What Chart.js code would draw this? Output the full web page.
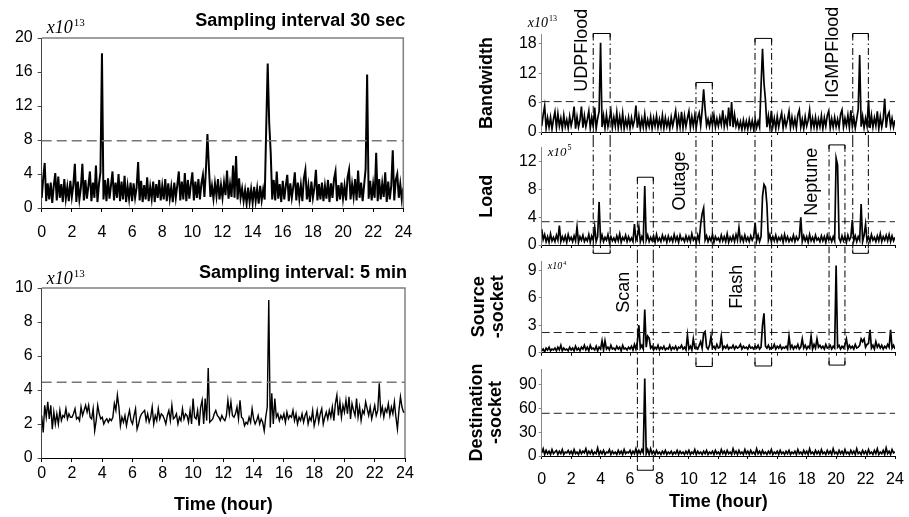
<!DOCTYPE html>
<html lang="en">
<head>
<meta charset="UTF-8" />
<title>Traffic features with anomaly windows</title>
<script src="https://cdn.jsdelivr.net/npm/chart.js@4.4.1/dist/chart.umd.min.js"></script>
<style>
  body { margin: 0; background: #fff; }
  .wrap { position: relative; width: 909px; height: 517px; overflow: hidden; }
  canvas { position: absolute; }
</style>
</head>
<body>
<div class="wrap">
  <canvas id="bw30" width="440" height="250" style="left:0;top:0"></canvas>
  <canvas id="bw5" width="440" height="267" style="left:0;top:250px"></canvas>
  <canvas id="bwR" width="459" height="140" style="left:450px;top:0"></canvas>
  <canvas id="loadR" width="459" height="116" style="left:450px;top:140px"></canvas>
  <canvas id="srcR" width="459" height="112" style="left:450px;top:256px"></canvas>
  <canvas id="dstR" width="459" height="177" style="left:450px;top:340px"></canvas>
</div>
<script>
// one sample every 0.1 hour, 0..24 h
const STEP_H = 0.1;

// bandwidth, x10^13 (30 sec sampling) - used left top and right top
const bandwidth30s = [
  1.2, 3.5, 5.3, 0.8, 2.9, 1.0, 3.0, 0.6, 2.6, 4.1,
  0.9, 3.7, 1.2, 2.8, 0.7, 3.4, 1.1, 2.5, 0.8, 3.2,
  1.3, 2.7, 5.2, 0.7, 3.1, 1.0, 2.4, 5.2, 0.9, 3.3,
  1.1, 2.6, 4.3, 0.8, 3.0, 1.2, 5.0, 0.7, 2.8, 4.2,
  18.2, 1.0, 3.3, 0.8, 3.5, 1.1, 2.7, 4.3, 0.9, 3.0,
  1.2, 4.0, 0.8, 3.1, 1.0, 3.8, 0.7, 2.6, 1.1, 3.0,
  0.8, 2.9, 1.2, 2.4, 5.4, 0.9, 3.2, 0.7, 2.7, 1.0,
  3.6, 0.8, 2.5, 1.1, 3.1, 0.7, 2.8, 1.2, 3.3, 0.9,
  2.6, 1.0, 3.4, 0.8, 2.9, 1.1, 2.5, 0.7, 3.0, 1.2,
  2.7, 4.3, 0.9, 3.1, 1.0, 4.1, 0.8, 3.3, 1.1, 2.8,
  4.2, 0.9, 3.1, 1.2, 3.4, 1.0, 2.9, 3.9, 1.3, 4.5,
  8.7, 4.7, 1.3, 2.6, 1.1, 2.9, 1.4, 3.4, 1.0, 2.7,
  1.2, 3.0, 1.5, 4.4, 1.1, 2.8, 1.3, 5.0, 1.2, 6.1,
  1.0, 3.5, 1.2, 2.3, 0.8, 2.1, 0.5, 2.4, 0.7, 2.2,
  0.6, 2.5, 0.8, 2.3, 0.5, 2.6, 0.9, 2.2, 1.0, 9.3,
  17.0, 10.0, 6.5, 1.0, 3.3, 0.9, 4.3, 1.1, 2.8, 0.7,
  3.2, 1.0, 2.6, 3.9, 0.8, 2.9, 1.2, 2.5, 4.2, 0.9,
  3.0, 1.1, 2.7, 0.8, 3.5, 4.5, 1.0, 2.6, 0.7, 3.1,
  1.2, 2.4, 4.5, 0.9, 2.8, 1.0, 3.0, 0.8, 2.6, 1.1,
  3.3, 0.7, 2.9, 1.2, 3.4, 4.3, 0.8, 2.7, 1.0, 3.0,
  1.1, 2.6, 0.9, 3.6, 4.5, 1.0, 2.8, 1.3, 3.4, 0.9,
  4.4, 1.2, 3.0, 0.8, 2.7, 4.6, 15.7, 1.1, 3.2, 0.9,
  2.8, 1.2, 6.5, 0.8, 3.4, 1.0, 2.9, 1.3, 4.2, 0.7,
  3.1, 1.0, 2.6, 6.8, 0.9, 3.3, 4.0, 1.2, 2.8, 1.0,
  2.4
];

// bandwidth, x10^13 (5 min sampling)
const bandwidth5min = [
  2.5, 1.5, 3.1, 2.4, 3.3, 2.3, 3.1, 1.7, 2.7, 2.0,
  2.6, 2.0, 2.8, 2.2, 2.5, 2.4, 2.9, 2.3, 2.6, 2.4,
  2.4, 2.6, 2.9, 2.3, 2.4, 2.2, 3.0, 2.5, 2.8, 3.1,
  2.7, 3.1, 2.4, 2.3, 2.9, 1.6, 2.2, 3.1, 2.6, 2.3,
  2.4, 2.0, 2.2, 2.3, 2.1, 2.3, 2.2, 2.4, 3.2, 2.8,
  3.7, 3.0, 1.9, 2.4, 2.1, 2.5, 1.9, 2.4, 2.8, 2.2,
  2.0, 2.5, 2.9, 1.7, 2.0, 2.4, 2.6, 2.7, 2.8, 2.2,
  2.6, 2.1, 2.4, 3.0, 2.0, 2.5, 2.2, 2.9, 2.3, 2.6,
  2.5, 2.3, 2.0, 2.5, 2.8, 2.2, 3.1, 2.3, 2.4, 2.6,
  2.0, 2.4, 2.2, 2.9, 2.3, 2.6, 2.5, 2.1, 2.8, 2.0,
  3.5, 2.4, 2.3, 2.8, 1.9, 3.0, 3.4, 2.0, 3.5, 2.2,
  5.3, 2.1, 2.2, 2.3, 2.6, 2.8, 2.5, 2.4, 2.2, 2.5,
  2.3, 2.2, 2.5, 3.4, 2.6, 3.3, 2.5, 2.4, 2.6, 3.0,
  2.3, 3.4, 2.4, 2.3, 1.9, 2.1, 2.0, 2.4, 2.1, 2.9,
  2.3, 2.0, 2.2, 2.5, 2.0, 2.3, 2.1, 1.6, 2.4, 3.0,
  9.3, 1.8, 3.8, 2.0, 3.5, 2.4, 2.6, 2.2, 2.5, 2.3,
  2.6, 2.1, 2.7, 2.3, 2.5, 2.4, 2.8, 2.2, 2.6, 2.0,
  2.4, 2.2, 2.6, 2.1, 2.5, 2.7, 2.0, 2.4, 2.2, 2.8,
  1.9, 2.3, 2.8, 2.1, 2.6, 2.9, 2.0, 2.4, 2.7, 2.3,
  2.8, 2.4, 3.0, 2.2, 3.2, 3.7, 2.5, 3.3, 2.4, 3.1,
  2.7, 3.4, 2.6, 3.6, 2.3, 3.2, 2.8, 2.5, 3.5, 2.4,
  3.0, 2.2, 2.8, 2.6, 3.3, 2.9, 2.5, 3.0, 2.3, 2.7,
  3.1, 2.5, 2.8, 4.4, 2.6, 3.0, 2.4, 2.9, 2.7, 3.2,
  2.5, 3.0, 2.6, 3.3, 2.4, 1.7, 2.8, 3.6, 3.0, 2.7,
  2.7
];

// load, x10^5
const load30s = [
  2.3, 0.8, 1.5, 0.5, 1.2, 0.4, 1.6, 0.6, 1.1, 0.5,
  1.4, 0.7, 2.8, 0.5, 1.2, 0.6, 1.3, 0.4, 1.5, 0.7,
  1.1, 0.5, 1.3, 0.6, 2.6, 0.4, 1.2, 0.7, 1.4, 0.5,
  1.0, 0.6, 1.5, 0.4, 1.3, 0.7, 2.6, 0.5, 1.2, 6.2,
  0.6, 1.4, 0.5, 1.1, 0.7, 1.5, 0.4, 1.2, 0.6, 1.0,
  0.5, 1.3, 0.6, 1.6, 0.4, 1.1, 0.7, 1.4, 0.5, 1.2,
  0.6, 1.0, 0.5, 3.0, 0.7, 1.3, 2.6, 0.5, 1.2, 0.6,
  8.5, 0.7, 1.4, 0.5, 1.1, 0.6, 1.3, 0.4, 1.5, 0.6,
  1.0, 0.5, 1.4, 0.7, 1.2, 0.4, 1.3, 0.6, 1.1, 0.5,
  1.5, 0.6, 1.2, 0.4, 1.4, 0.7, 1.0, 0.5, 1.3, 0.6,
  1.2, 0.5, 1.6, 0.7, 1.1, 0.4, 1.4, 0.6, 3.0, 4.5,
  5.3, 0.7, 1.3, 0.5, 1.1, 0.6, 1.5, 0.4, 1.2, 0.7,
  1.0, 0.5, 1.4, 0.6, 1.2, 0.5, 1.6, 0.4, 1.1, 0.6,
  1.3, 0.5, 1.5, 0.7, 2.5, 0.6, 1.2, 0.5, 1.4, 0.6,
  1.1, 0.5, 1.3, 0.7, 1.2, 3.2, 0.6, 1.4, 0.5, 1.2,
  7.0, 8.7, 8.3, 5.8, 0.7, 1.5, 0.5, 1.2, 0.6, 1.4,
  0.5, 1.1, 0.7, 1.3, 0.4, 1.5, 0.6, 1.2, 0.5, 1.0,
  0.6, 1.4, 0.5, 1.2, 0.7, 1.1, 4.0, 0.5, 1.3, 0.6,
  1.2, 0.4, 1.5, 0.6, 1.1, 0.5, 1.4, 0.7, 1.0, 0.5,
  1.3, 0.6, 1.2, 0.4, 1.4, 0.7, 1.1, 0.5, 1.2, 0.6,
  12.5, 11.5, 1.0, 0.5, 1.3, 0.6, 1.2, 0.4, 1.4, 0.7,
  1.1, 3.6, 0.6, 1.3, 0.5, 1.2, 0.7, 5.9, 0.5, 1.4,
  3.0, 0.6, 1.2, 0.5, 1.5, 0.7, 1.1, 0.5, 1.3, 0.6,
  1.6, 0.5, 1.2, 0.7, 1.4, 0.6, 1.5, 0.5, 1.3, 0.6,
  1.1
];

// source-socket, x10^4
const srcSocket30s = [
  0.2, 0.4, 0.1, 0.5, 0.3, 0.6, 0.2, 0.4, 0.3, 0.5,
  0.2, 0.6, 0.3, 0.8, 0.2, 0.5, 0.3, 0.4, 0.2, 0.6,
  0.3, 0.5, 0.2, 0.7, 0.3, 0.5, 0.2, 0.6, 0.4, 0.8,
  0.3, 0.6, 0.2, 0.8, 0.4, 0.5, 0.3, 0.7, 0.2, 0.6,
  0.4, 1.3, 0.3, 1.3, 0.4, 0.6, 0.3, 0.8, 0.4, 0.5,
  0.3, 0.7, 0.4, 0.6, 0.2, 0.8, 0.4, 0.5, 0.3, 0.6,
  0.4, 0.7, 0.3, 0.9, 0.4, 1.2, 3.0, 0.5, 0.8, 0.4,
  4.7, 0.6, 1.8, 1.6, 0.5, 0.7, 0.3, 0.6, 0.4, 0.8,
  0.3, 0.6, 0.4, 0.7, 0.3, 0.5, 0.4, 0.8, 0.3, 0.6,
  0.4, 0.7, 0.3, 0.6, 0.5, 0.8, 0.4, 0.6, 0.3, 1.9,
  0.4, 0.7, 0.3, 1.5, 0.5, 0.6, 0.4, 0.8, 1.2, 0.5,
  2.1, 2.3, 0.6, 0.4, 0.8, 1.8, 0.5, 0.7, 0.4, 0.9,
  0.5, 0.6, 1.8, 0.4, 0.7, 0.5, 0.8, 0.4, 0.6, 0.5,
  0.8, 0.4, 0.7, 0.5, 0.6, 0.9, 0.4, 0.7, 0.5, 0.6,
  0.4, 0.8, 0.5, 0.6, 0.4, 0.7, 0.5, 0.8, 0.4, 0.6,
  3.0, 4.3, 0.7, 0.5, 0.8, 0.4, 0.6, 0.5, 0.9, 0.4,
  0.7, 0.5, 0.8, 0.4, 0.6, 0.5, 0.7, 0.4, 1.8, 0.5,
  0.8, 0.4, 0.7, 0.5, 0.9, 0.4, 0.6, 1.5, 0.5, 0.8,
  0.4, 0.7, 0.5, 1.8, 0.4, 0.9, 0.5, 1.5, 0.6, 0.8,
  0.5, 0.7, 0.4, 0.9, 0.5, 0.6, 0.8, 0.4, 0.7, 0.5,
  9.5, 0.6, 0.8, 0.4, 0.7, 0.5, 0.9, 1.5, 0.4, 0.8,
  0.5, 0.7, 0.4, 0.9, 0.5, 0.6, 0.8, 1.5, 1.2, 1.5,
  0.6, 0.9, 1.0, 2.5, 0.5, 0.8, 0.4, 1.2, 0.6, 0.9,
  0.5, 0.8, 0.4, 0.7, 0.5, 0.9, 0.6, 2.5, 0.5, 0.8,
  0.4
];

// destination-socket (count)
const dstSocket30s = [
  4, 9, 2, 7, 3, 6, 2, 8, 3, 5,
  7, 2, 6, 3, 8, 2, 5, 4, 7, 3,
  6, 2, 8, 3, 5, 2, 7, 3, 6, 4,
  9, 2, 6, 3, 7, 2, 5, 3, 10, 2,
  6, 3, 7, 2, 5, 4, 8, 2, 6, 3,
  5, 2, 7, 3, 6, 2, 8, 3, 5, 4,
  7, 2, 6, 3, 9, 2, 7, 3, 8, 4,
  98, 3, 8, 2, 9, 3, 6, 2, 7, 3,
  5, 2, 6, 3, 7, 2, 5, 3, 6, 2,
  5, 3, 7, 2, 6, 3, 5, 2, 6, 3,
  7, 2, 5, 3, 8, 2, 6, 3, 5, 2,
  6, 3, 7, 2, 5, 3, 6, 2, 7, 3,
  5, 2, 8, 3, 6, 2, 7, 3, 5, 2,
  9, 3, 6, 2, 7, 3, 5, 2, 8, 3,
  6, 2, 7, 3, 5, 2, 9, 3, 6, 2,
  7, 3, 5, 2, 6, 3, 8, 2, 5, 3,
  6, 2, 7, 3, 5, 2, 6, 3, 7, 2,
  5, 3, 6, 2, 8, 3, 5, 2, 7, 3,
  6, 2, 9, 3, 5, 2, 7, 3, 6, 2,
  8, 3, 5, 2, 7, 3, 6, 2, 9, 3,
  5, 2, 7, 3, 6, 2, 8, 3, 5, 2,
  7, 3, 6, 2, 9, 3, 5, 2, 7, 3,
  6, 2, 8, 3, 5, 2, 7, 3, 9, 2,
  5, 3, 7, 2, 10, 3, 6, 2, 8, 4,
  5
];

// detection thresholds (dashed lines)
const thrBw30 = 7.9;
const thrBw5 = 4.45;
const thrBw = 6.2;
const thrLoad = 3.35;
const thrSrc = 2.2;
const thrDst = 54;

// y tick labels
const ticksBw30 = [0, 4, 8, 12, 16, 20];
const ticksBw5 = [0, 2, 4, 6, 8, 10];
const ticksBw = [0, 6, 12, 18];
const ticksLoad = [0, 4, 8, 12];
const ticksSrc = [0, 3, 6, 9];
const ticksDst = [0, 30, 60, 90];

// stacked panels on the right, top to bottom
const panels = ['bw', 'load', 'src', 'dst'];

// anomaly windows: hours, where the bracket starts/ends (panel, value), label spot
const attacks = [
  { name: 'UDPFlood', x0: 3.5, x1: 4.65, top: ['bw', 20.1], bottom: ['load', -1.2], label: ['bw', 2.72, 16.7] },
  { name: 'Outage', x0: 10.48, x1: 11.59, top: ['bw', 10.1], bottom: ['src', -1.5], label: ['load', 9.4, 9.2] },
  { name: 'Flash', x0: 14.49, x1: 15.62, top: ['bw', 19.1], bottom: ['src', -1.45], label: ['src', 13.27, 7.2] },
  { name: 'IGMPFlood', x0: 21.13, x1: 22.19, top: ['bw', 20.1], bottom: ['load', -1.2], label: ['bw', 19.79, 16.3] },
  { name: 'Scan', x0: 6.5, x1: 7.58, top: ['load', 9.75], bottom: ['dst', -18], label: ['src', 5.59, 6.6] },
  { name: 'Neptune', x0: 19.52, x1: 20.6, top: ['load', 14.4], bottom: ['src', -1.35], label: ['load', 18.34, 9.1] }
];

Chart.defaults.font.family = "'Liberation Sans', Arial, sans-serif";
Chart.defaults.font.size = 16;
Chart.defaults.color = '#000';

const toPts = arr => arr.map((v, i) => ({ x: +(i * STEP_H).toFixed(2), y: v }));

function line(ctx, x1, y1, x2, y2) {
  ctx.beginPath();
  ctx.moveTo(x1, y1);
  ctx.lineTo(x2, y2);
  ctx.stroke();
}

const panelDecor = {
  id: 'panelDecor',
  afterDatasetsDraw(chart, args, o) {
    const { ctx, chartArea: a, scales } = chart;
    ctx.save();
    ctx.fillStyle = '#000';
    if (o.frame) {
      ctx.strokeStyle = '#808080';
      ctx.lineWidth = 1.5;
      ctx.beginPath();
      ctx.moveTo(a.left, a.top);
      ctx.lineTo(a.right, a.top);
      ctx.lineTo(a.right, a.bottom);
      ctx.stroke();
    }
    if (o.title) {
      ctx.font = "bold 18px 'Liberation Sans', Arial, sans-serif";
      ctx.textAlign = 'right';
      ctx.textBaseline = 'middle';
      ctx.fillText(o.title, a.right + 2, o.titleY);
    }
    if (o.unit) {
      const u = o.unit;
      const x = a.left + u.dx, y = a.top + u.dy;
      ctx.font = `italic ${u.size}px 'Liberation Serif', 'Times New Roman', serif`;
      ctx.textAlign = 'left';
      ctx.textBaseline = 'alphabetic';
      ctx.fillText('x10', x, y);
      const w = ctx.measureText('x10').width;
      ctx.font = `${Math.round(u.size * 0.6)}px 'Liberation Serif', 'Times New Roman', serif`;
      ctx.fillText(u.exp, x + w + 1, y - u.size * 0.42);
    }
    if (o.panel) {
      const pi = panels.indexOf(o.panel);
      const ys = scales.y, xs = scales.x;
      ctx.strokeStyle = '#000';
      ctx.lineWidth = 1;
      attacks.forEach(b => {
        const ti = panels.indexOf(b.top[0]);
        const bi = panels.indexOf(b.bottom[0]);
        const xl = xs.getPixelForValue(b.x0);
        const xr = xs.getPixelForValue(b.x1);
        if (pi >= ti && pi <= bi) {
          const yT = pi === ti ? ys.getPixelForValue(b.top[1]) : o.bandTop;
          const yB = pi === bi ? ys.getPixelForValue(b.bottom[1]) : chart.height;
          ctx.setLineDash([7, 3, 1.5, 3]);
          line(ctx, xl, yT, xl, yB);
          line(ctx, xr, yT, xr, yB);
          ctx.setLineDash([]);
          if (pi === ti) {
            line(ctx, xl, yT, xr, yT);
            line(ctx, xl, yT, xl, yT + 4);
            line(ctx, xr, yT, xr, yT + 4);
          }
          if (pi === bi) {
            line(ctx, xl, yB, xr, yB);
            line(ctx, xl, yB, xl, yB - 4);
            line(ctx, xr, yB, xr, yB - 4);
          }
        }
        if (b.label[0] === o.panel) {
          ctx.save();
          ctx.translate(xs.getPixelForValue(b.label[1]), ys.getPixelForValue(b.label[2]));
          ctx.rotate(-Math.PI / 2);
          ctx.font = "18px 'Liberation Sans', Arial, sans-serif";
          ctx.textAlign = 'center';
          ctx.textBaseline = 'middle';
          ctx.fillText(b.name, 0, 0);
          ctx.restore();
        }
      });
    }
    ctx.restore();
  }
};

function makeChart(id, c) {
  return new Chart(document.getElementById(id), {
    type: 'line',
    data: {
      datasets: [
        {
          data: [{ x: 0, y: c.thr }, { x: 24, y: c.thr }],
          borderColor: c.thrColor,
          borderWidth: c.thrWidth,
          borderDash: c.thrDash,
          pointRadius: 0
        },
        {
          data: toPts(c.values),
          borderColor: '#000',
          borderWidth: c.lineW,
          pointRadius: 0,
          tension: 0
        }
      ]
    },
    options: {
      responsive: false,
      animation: false,
      devicePixelRatio: 1,
      events: [],
      layout: { autoPadding: false, padding: c.pad },
      plugins: {
        legend: { display: false },
        tooltip: { enabled: false },
        panelDecor: c.decor
      },
      scales: {
        x: {
          type: 'linear',
          min: 0,
          max: 24,
          border: { color: '#000', width: 1 },
          grid: { drawOnChartArea: false, tickLength: c.tl, color: '#000' },
          ticks: { stepSize: 2, display: c.xLabels, padding: c.xPad, maxRotation: 0 },
          title: c.xTitle
            ? { display: true, text: 'Time (hour)', font: { size: 18, weight: 'bold' }, padding: { top: 0, bottom: c.xTitlePad } }
            : { display: false },
          afterFit: s => { s.height = c.xH; s.paddingLeft = 0; s.paddingRight = 0; }
        },
        y: {
          min: 0,
          max: c.yMax,
          border: { color: c.yColor, width: 1 },
          grid: { drawOnChartArea: false, tickLength: c.tl, color: c.yColor },
          ticks: { padding: c.yPad },
          title: c.yTitle
            ? { display: true, text: c.yTitle, font: { size: 18, weight: 'bold', lineHeight: 1.05 }, padding: { top: c.yTitlePad, bottom: 0 } }
            : { display: false },
          afterBuildTicks: s => { s.ticks = c.yTicks.map(v => ({ value: v })); },
          afterFit: s => { s.width = c.yW; s.paddingTop = 0; s.paddingBottom = 0; }
        }
      }
    },
    plugins: [panelDecor]
  });
}

const leftBase = {
  thrColor: '#777', thrWidth: 1.5, thrDash: [10, 5], lineW: 2,
  tl: 4, yPad: 5, yW: 41.7, yColor: '#444', xLabels: true
};

makeChart('bw30', Object.assign({}, leftBase, {
  values: bandwidth30s, thr: thrBw30, yMax: 20, yTicks: ticksBw30,
  pad: { left: 0, top: 38, right: 36.7, bottom: 0 }, xH: 42, xPad: 11,
  decor: { frame: true, title: 'Sampling interval 30 sec', titleY: 21, unit: { exp: '13', size: 18, dx: 5, dy: -4.7 } }
}));

makeChart('bw5', Object.assign({}, leftBase, {
  values: bandwidth5min, thr: thrBw5, yMax: 10, yTicks: ticksBw5, lineW: 1.4,
  pad: { left: 0, top: 38, right: 35, bottom: 0 }, xH: 59, xPad: 2,
  xTitle: true, xTitlePad: 1,
  decor: { frame: true, title: 'Sampling interval: 5 min', titleY: 23, unit: { exp: '13', size: 18, dx: 5, dy: -3.7 } }
}));

const rightBase = {
  thrColor: '#222', thrWidth: 1, thrDash: [8, 4], lineW: 1.7,
  tl: 3, yPad: 2, yW: 91.7, yColor: '#888', xLabels: false, xPad: 11
};

makeChart('bwR', Object.assign({}, rightBase, {
  values: bandwidth30s, thr: thrBw, yMax: 20, yTicks: ticksBw,
  pad: { left: 0, top: 34, right: 14, bottom: 0 }, xH: 8,
  yTitle: 'Bandwidth', yTitlePad: 27.5,
  decor: { panel: 'bw', bandTop: 0, unit: { exp: '13', size: 14, dx: -14, dy: -7 } }
}));

makeChart('loadR', Object.assign({}, rightBase, {
  values: load30s, thr: thrLoad, yMax: 14, yTicks: ticksLoad,
  pad: { left: 0, top: 7.7, right: 14, bottom: 0 }, xH: 11,
  yTitle: 'Load', yTitlePad: 28,
  decor: { panel: 'load', bandTop: 0, unit: { exp: '5', size: 13, dx: 6, dy: 8 } }
}));

makeChart('srcR', Object.assign({}, rightBase, {
  values: srcSocket30s, thr: thrSrc, yMax: 10, yTicks: ticksSrc,
  pad: { left: 0, top: 5, right: 14, bottom: 0 }, xH: 15.3,
  yTitle: ['Source', '-socket'], yTitlePad: 19.2,
  decor: { panel: 'src', bandTop: 0, unit: { exp: '4', size: 10, dx: 6, dy: 8 } }
}));

makeChart('dstR', Object.assign({}, rightBase, {
  values: dstSocket30s, thr: thrDst, yMax: 110, yTicks: ticksDst,
  pad: { left: 0, top: 29, right: 14, bottom: 0 }, xH: 61, xLabels: true,
  xTitle: true, xTitlePad: 4,
  yTitle: ['Destination', '-socket'], yTitlePad: 18,
  decor: { panel: 'dst', bandTop: 28 }
}));
</script>
</body>
</html>
